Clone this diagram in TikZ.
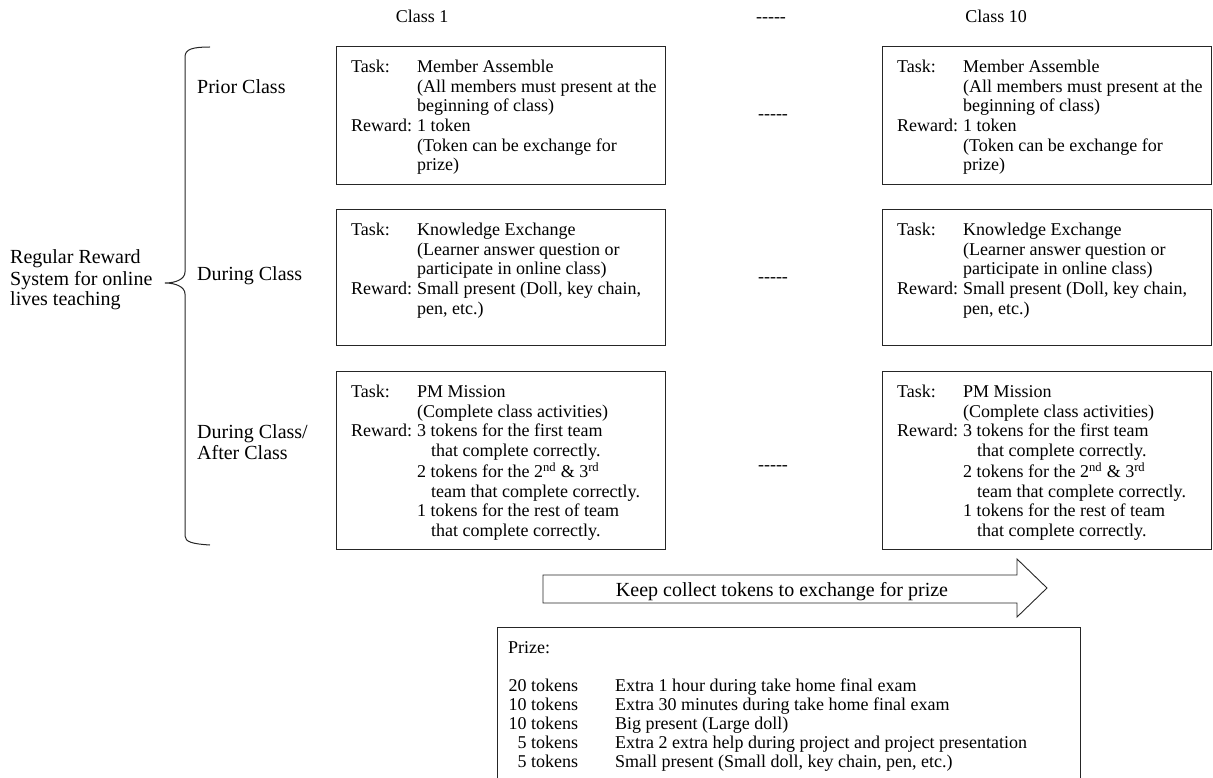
\documentclass[tikz,border=0pt]{standalone}
\usepackage{fontspec}
\setmainfont{Liberation Serif}
\tikzset{
  boxline/.style={draw=black!85, line width=0.9pt},
  panel/.style={boxline, anchor=north west, minimum width=329pt, inner sep=0pt},
  txt/.style={inner sep=0pt, anchor=base west, font=\fontsize{18}{19.7}\selectfont},
  lbl/.style={inner sep=0pt, anchor=base west, font=\fontsize{20}{21}\selectfont},
  sepm/.style={inner sep=0pt, anchor=base, font=\fontsize{18}{20}\selectfont},
}
\newcommand{\tkA}{\makebox[66pt][l]{Task:}}
\newcommand{\rwA}{\makebox[66pt][l]{Reward:}}
\newcommand{\indA}{\hspace*{66pt}}
\newcommand{\indB}{\hspace*{80pt}}
\newcommand{\mytab}[1]{\begin{tabular}[t]{@{}l@{}}#1\end{tabular}}
\newcommand{\fivedash}{\mbox{-}\mbox{-}\mbox{-}\mbox{-}\mbox{-}}
\begin{document}
\begin{tikzpicture}[x=1pt,y=-1pt]
\useasboundingbox (0,0) rectangle (1213,778);
\clip (0,0) rectangle (1213,778);

% column headers
\node[sepm] (h1) at (422,23) {Class 1};
\node[sepm] (hd) at (771,23) {\fivedash};
\node[sepm] (h10) at (996,23) {Class 10};

% left label and brace
\node[lbl] (main) at (10,264) {\mytab{Regular Reward\\System for online\\lives teaching}};
\draw[boxline, line width=1pt] (210,47) .. controls (193,47) and (185,49) .. (185,57)
  -- (185,272) .. controls (185,279) and (176,283) .. (165,283)
  .. controls (176,283) and (185,287) .. (185,294)
  -- (185,536) .. controls (185,542) and (193,544) .. (210,545);

\node[lbl] (r1) at (197,94) {Prior Class};
\node[lbl] (r2) at (197,280) {During Class};
\node[lbl] (r3) at (197,438) {\mytab{During Class/\\After Class}};

% panels
\node[panel, minimum height=138pt] (pA1) at (336,46) {};
\node[panel, minimum height=136pt] (pA2) at (336,209) {};
\node[panel, minimum height=178pt] (pA3) at (336,371) {};
\node[panel, minimum height=138pt] (pB1) at (882,46) {};
\node[panel, minimum height=136pt] (pB2) at (882,209) {};
\node[panel, minimum height=178pt] (pB3) at (882,371) {};

\foreach \c in {A,B}{
\node[txt] (t\c1) at ([shift={(15,26.5)}]p\c1.north west) {\mytab{%
\tkA Member Assemble\\
\indA (All members must present at the\\
\indA beginning of class)\\
\rwA 1 token\\
\indA (Token can be exchange for\\
\indA prize)}};
\node[txt] (t\c2) at ([shift={(15,26.5)}]p\c2.north west) {\mytab{%
\tkA Knowledge Exchange\\
\indA (Learner answer question or\\
\indA participate in online class)\\
\rwA Small present (Doll, key chain,\\
\indA pen, etc.)}};
\node[txt] (t\c3) at ([shift={(15,26.5)}]p\c3.north west) {\mytab{%
\tkA PM Mission\\
\indA (Complete class activities)\\
\rwA 3 tokens for the first team\\
\indB that complete correctly.\\
\indA 2 tokens for the 2\textsuperscript{nd} \& 3\textsuperscript{rd}\\
\indB team that complete correctly.\\
\indA 1 tokens for the rest of team\\
\indB that complete correctly.}};
}

% dashes between columns
\node[sepm] (d1) at (773,120) {\fivedash};
\node[sepm] (d2) at (773,283) {\fivedash};
\node[sepm] (d3) at (773,470) {\fivedash};

% block arrow
\draw[boxline] (543,575) -- (1017,575) -- (1017,559) -- (1047,588) -- (1017,617)
  -- (1017,603) -- (543,603) -- cycle;
\node[inner sep=0pt, anchor=base, font=\fontsize{20}{21}\selectfont] (keep) at (782,596)
  {Keep collect tokens to exchange for prize};

% prize box
\node[boxline, anchor=north west, minimum width=583pt, minimum height=200pt, inner sep=0pt] (prize) at (497,627) {};
\node[inner sep=0pt, anchor=base west, font=\fontsize{18}{19}\selectfont] (plist) at (508,653) {\mytab{%
Prize:\\
\\
\makebox[70pt][r]{20 tokens}\hspace*{37pt}Extra 1 hour during take home final exam\\
\makebox[70pt][r]{10 tokens}\hspace*{37pt}Extra 30 minutes during take home final exam\\
\makebox[70pt][r]{10 tokens}\hspace*{37pt}Big present (Large doll)\\
\makebox[70pt][r]{5 tokens}\hspace*{37pt}Extra 2 extra help during project and project presentation\\
\makebox[70pt][r]{5 tokens}\hspace*{37pt}Small present (Small doll, key chain, pen, etc.)}};
\end{tikzpicture}
\end{document}
